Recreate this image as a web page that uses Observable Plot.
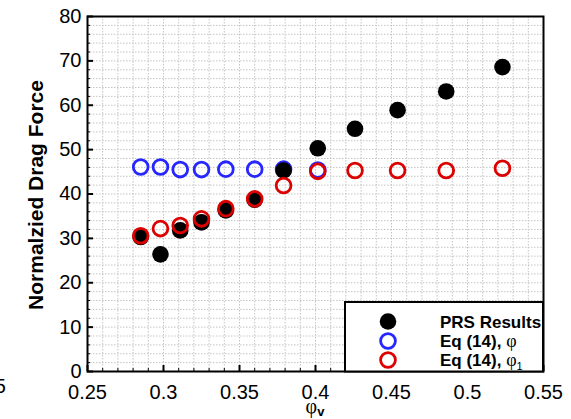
<!DOCTYPE html>
<html><head><meta charset="utf-8">
<script src="https://cdn.jsdelivr.net/npm/d3@7"></script>
<script src="https://cdn.jsdelivr.net/npm/@observablehq/plot@0.6"></script>
<style>
html,body{margin:0;padding:0;background:#fff;}
#wrap{position:relative;width:571px;height:419px;overflow:hidden;background:#fff;}
</style></head><body><div id="wrap"></div>
<script>
// ---- data ----
const xPRS  = [0.285, 0.298, 0.311, 0.325, 0.341, 0.360, 0.379, 0.4015, 0.426, 0.454, 0.486, 0.523];
const yPRS  = [30.3, 26.4, 31.8, 33.6, 36.3, 38.7, 45.3, 50.3, 54.7, 58.9, 63.1, 68.6];
const xPhi  = [0.285, 0.298, 0.311, 0.325, 0.341, 0.360, 0.379, 0.4015];
const yPhi  = [46.1, 46.1, 45.5, 45.5, 45.6, 45.6, 45.6, 45.4];
const xPhi1 = [0.285, 0.298, 0.311, 0.325, 0.341, 0.360, 0.379, 0.4015, 0.426, 0.454, 0.486, 0.523];
const yPhi1 = [30.6, 32.2, 32.9, 34.4, 36.7, 38.9, 41.9, 45.1, 45.3, 45.3, 45.3, 45.8];

const xTicks = [0.25, 0.3, 0.35, 0.4, 0.45, 0.5, 0.55];
const xTickLabels = ["0.25", "0.3", "0.35", "0.4", "0.45", "0.5", "0.55"];
const yTicks = [0, 10, 20, 30, 40, 50, 60, 70, 80];
const yTickLabels = ["0", "10", "20", "30", "40", "50", "60", "70", "80"];
const xMinor = d3.range(25, 56, 1).map(v => v / 100);
const yMinor = d3.range(0, 81, 2);

const seriesNames = ["PRS Results", "Eq (14), ", "Eq (14), "];

const FONT = "'Liberation Sans', Arial, Helvetica, sans-serif";
const SERIF = "'Liberation Serif', 'DejaVu Serif', serif";
const gridStyle = {stroke: "#c4c4c4", strokeOpacity: 1, strokeWidth: 1, strokeDasharray: "1.5,1.5"};

const plot = Plot.plot({
  width: 571, height: 419,
  marginLeft: 87, marginRight: 28, marginTop: 16, marginBottom: 48,
  x: {domain: [0.25, 0.55]},
  y: {domain: [0, 80]},
  style: {fontFamily: FONT, background: "white", color: "black"},
  marks: [
    Plot.gridX(xMinor, gridStyle),
    Plot.gridY(yMinor, gridStyle),
    Plot.axisX(xMinor, {tickSize: -3, tickFormat: () => "", label: null, strokeWidth: 1}),
    Plot.axisY(yMinor, {tickSize: -3, tickFormat: () => "", label: null, strokeWidth: 1}),
    Plot.axisX(xTicks, {tickSize: -6, tickFormat: () => "", label: null, strokeWidth: 2}),
    Plot.axisY(yTicks, {tickSize: -6, tickFormat: () => "", label: null, strokeWidth: 2}),
    Plot.axisX(xTicks, {tickSize: 0, tickPadding: 13, fontSize: 20, label: null,
      tickFormat: d => xTickLabels[xTicks.indexOf(d)]}),
    Plot.axisY(yTicks, {tickSize: 0, tickPadding: 6, fontSize: 20, label: null,
      tickFormat: d => yTickLabels[yTicks.indexOf(d)]}),
    Plot.dot(d3.range(xPhi.length), {x: i => xPhi[i], y: i => yPhi[i], r: 7.4, fill: "none", stroke: "#2626ff", strokeWidth: 2.8}),
    Plot.dot(d3.range(xPRS.length), {x: i => xPRS[i], y: i => yPRS[i], r: 8.3, fill: "black", stroke: "none"}),
    Plot.dot(d3.range(xPhi1.length), {x: i => xPhi1[i], y: i => yPhi1[i], r: 7.4, fill: "none", stroke: "#dd0000", strokeWidth: 2.8}),
    Plot.frame({stroke: "black", strokeWidth: 2})
  ]
});

const svg = d3.select(plot);
const xs = plot.scale("x");

// y-axis title
svg.append("text")
  .attr("transform", "translate(43,195) rotate(-90)")
  .attr("text-anchor", "middle")
  .style("font-family", FONT).style("font-weight", "bold").style("font-size", "21px")
  .attr("fill", "black")
  .text("Normalzied Drag Force");

// x-axis title φv
const xt = svg.append("text")
  .attr("x", xs.apply(0.4)).attr("y", 413)
  .attr("text-anchor", "middle").attr("fill", "black");
xt.append("tspan").style("font-family", SERIF).style("font-size", "20px").text("φ");
xt.append("tspan").attr("dy", 3).style("font-family", FONT).style("font-weight", "bold").style("font-size", "13px").text("v");

// legend
const lg = svg.append("g").attr("text-anchor", "start");
lg.append("rect").attr("x", 345).attr("y", 302).attr("width", 198).attr("height", 69.5)
  .attr("fill", "white").attr("stroke", "black").attr("stroke-width", 2);
const rows = [
  {cy: 321.5, fill: "black", stroke: "none", r: 8.3, sw: 0, sub: null, phi: false},
  {cy: 341, fill: "none", stroke: "#2626ff", r: 7.4, sw: 2.8, sub: null, phi: true},
  {cy: 360, fill: "none", stroke: "#dd0000", r: 7.4, sw: 2.8, sub: "1", phi: true}
];
rows.forEach((row, i) => {
  lg.append("circle").attr("cx", 388).attr("cy", row.cy).attr("r", row.r)
    .attr("fill", row.fill).attr("stroke", row.stroke).attr("stroke-width", row.sw);
  const t = lg.append("text").attr("x", 440).attr("y", row.cy + 6).attr("fill", "black").attr("text-anchor", "start");
  t.append("tspan").style("font-family", FONT).style("font-weight", "bold").style("font-size", "17px").text(seriesNames[i]);
  if (row.phi) t.append("tspan").style("font-family", SERIF).style("font-size", "18px").text("φ");
  if (row.sub) t.append("tspan").attr("dy", 4).style("font-family", FONT).style("font-size", "11px").text(row.sub);
});

// clipped stray tick label at the far left edge
svg.append("text").attr("x", 6).attr("y", 393).attr("text-anchor", "end")
  .style("font-family", FONT).style("font-size", "20px").attr("fill", "black").text("0.25");

document.getElementById("wrap").appendChild(plot);
</script></body></html>
